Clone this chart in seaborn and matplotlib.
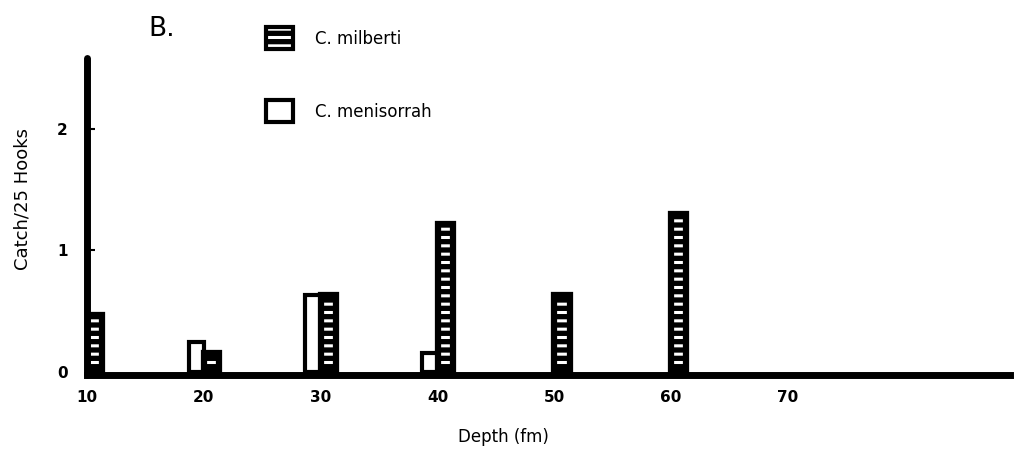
import numpy as np
import pandas as pd
import matplotlib
matplotlib.use("Agg")
import matplotlib.pyplot as plt
from matplotlib.patches import Patch, Rectangle
import seaborn as sns

# data (catch per 25 hooks by depth)
depths = [10, 20, 30, 40, 50, 60]
milberti = [0.47, 0.16, 0.63, 1.22, 0.63, 1.30]
menisorrah = [0.0, 0.25, 0.63, 0.16, 0.0, 0.0]
species = ["C. menisorrah", "C. milberti"]
xticks = [10, 20, 30, 40, 50, 60, 70]
yticks = [0, 1, 2]

df = pd.DataFrame({
    "Depth": depths * 2,
    "Catch": menisorrah + milberti,
    "Species": [species[0]] * len(depths) + [species[1]] * len(depths),
})

sns.set_style("ticks")
plt.rcParams["font.family"] = ["DejaVu Sans"]
plt.rcParams["hatch.linewidth"] = 2.2
for k in ["text.color", "axes.labelcolor", "xtick.color", "ytick.color", "axes.edgecolor"]:
    plt.rcParams[k] = "black"

fig = plt.figure(figsize=(10.15, 4.54), dpi=100)
ax = fig.add_axes([87 / 1015, 1 - 374.5 / 454, 923 / 1015, (374.5 - 58) / 454])

sns.barplot(data=df, x="Depth", y="Catch", hue="Species", hue_order=species,
            palette={species[0]: "white", species[1]: "black"},
            native_scale=True, width=0.26, dodge=True, errorbar=None,
            edgecolor="black", linewidth=3, legend=False, ax=ax)

# milberti bars: black with white horizontal dashes, outlined in black
n = len(depths)
bars = list(ax.patches)
for i, p in enumerate(bars):
    if p.get_height() == 0:
        p.set_visible(False)
        continue
    if i >= n:
        p.set_facecolor("black")
        p.set_edgecolor("white")
        p.set_hatch("--")
        p.set_linewidth(0)
        ax.add_patch(Rectangle((p.get_x(), p.get_y()), p.get_width(), p.get_height(),
                               fill=False, edgecolor="black", linewidth=4.5, zorder=p.get_zorder() + 0.1))

ax.set_xlim(10, 89)
ax.set_ylim(-0.02, 2.58)
ax.set_xticks(xticks)
ax.set_xticklabels([str(t) for t in xticks], fontsize=11, fontweight="bold")
ax.set_yticks(yticks)
ax.set_yticklabels([str(t) for t in yticks], fontsize=11, fontweight="bold")
ax.tick_params(axis="x", length=0, pad=11)
ax.tick_params(axis="y", direction="in", length=6, width=1.5, pad=14)

sns.despine(ax=ax)
ax.spines["left"].set_linewidth(5)
ax.spines["bottom"].set_linewidth(5)
ax.spines["left"].set_capstyle("round")

ax.set_xlabel("Depth (fm)", fontsize=12)
ax.set_ylabel("Catch/25 Hooks", fontsize=13)
ax.xaxis.set_label_coords((503 - 87) / 923, -(437 - 374.5) / 316.5)
ax.yaxis.set_label_coords(-(87 - 23) / 923, (374.5 - 199) / 316.5)
ax.xaxis.label.set_va("center")
ax.yaxis.label.set_va("center")

fig.text(148 / 1015, 1 - 29 / 454, "B.", fontsize=19, va="center", ha="left")

h_mil = (Patch(facecolor="black", edgecolor="white", hatch="--", linewidth=0),
         Patch(facecolor="none", edgecolor="black", linewidth=3))
h_men = Patch(facecolor="white", edgecolor="black", linewidth=3)
fig.legend([h_mil, h_men], ["C. milberti", "C. menisorrah"],
           loc="upper left", bbox_to_anchor=(258 / 1015, 1 - 19 / 454),
           bbox_transform=fig.transFigure, frameon=False, fontsize=12,
           handlelength=1.6, handleheight=1.6, handletextpad=1.3,
           labelspacing=3.1, borderpad=0)

fig.savefig("out.png", dpi=100)
